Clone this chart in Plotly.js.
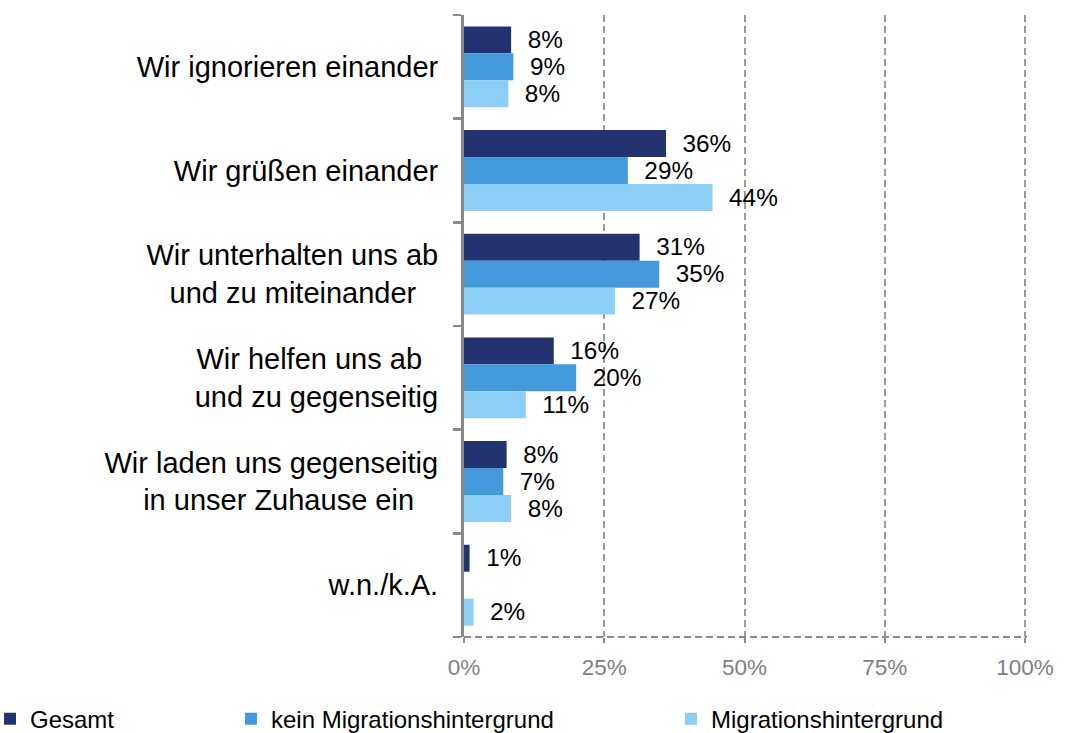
<!DOCTYPE html>
<html>
<head>
<meta charset="utf-8">
<script src="https://cdn.plot.ly/plotly-3.0.1.min.js"></script>
<style>
html,body{margin:0;padding:0;background:#fff;}
#chart{width:1065px;height:733px;}
</style>
</head>
<body>
<div id="chart"></div>
<script>
// ---- Data ----
const categories = ["ign", "gru", "unt", "hel", "lad", "wnka"];
const categoryLabels = [
  "Wir ignorieren einander",
  "Wir grüßen einander",
  "Wir unterhalten uns ab<br>und zu miteinander\u00a0\u00a0\u2009",
  "Wir helfen uns ab\u00a0\u00a0<br>und zu gegenseitig",
  "Wir laden uns gegenseitig<br>in unser Zuhause ein\u00a0\u00a0\u00a0",
  "w.n./k.A."
];
const seriesNames = ["Gesamt", "kein Migrationshintergrund", "Migrationshintergrund"];
const gesamt = [8.4, 36.0, 31.3, 16.0, 7.6, 1.0];
const keinMig = [8.8, 29.2, 34.8, 20.0, 7.0, null];
const mig = [7.9, 44.3, 26.9, 11.0, 8.4, 1.7];
const xTickVals = [0, 25, 50, 75, 100];
const xTickText = ["0%", "25%", "50%", "75%", "100%"];

const colors = ["#233372", "#4499DA", "#8DCEF6"];
const FONT = "Liberation Sans, Arial, sans-serif";

const seriesValues = [gesamt, keinMig, mig];
const legendIds = ["legend", "legend2", "legend3"];

const traces = seriesValues.map((vals, i) => ({
  type: "bar",
  orientation: "h",
  name: seriesNames[i],
  y: categories,
  x: vals,
  marker: {color: colors[i], line: {width: 0}},
  texttemplate: "\u00a0\u00a0%{x:.0f}%",
  textposition: "outside",
  cliponaxis: false,
  textfont: {family: FONT, size: 28, color: "#000"},
  hoverinfo: "skip",
  legend: legendIds[i]
}));

const legendBase = {
  orientation: "h",
  xanchor: "left",
  yanchor: "middle",
  y: -0.132,
  font: {family: FONT, size: 24, color: "#000"},
  bgcolor: "rgba(0,0,0,0)",
  itemwidth: 30
};
const PLOT_W = 563;
function px2paper(px) { return (px - 464) / PLOT_W; }

const layout = {
  width: 1065,
  height: 733,
  margin: {l: 464, r: 38, t: 15, b: 96, autoexpand: false},
  paper_bgcolor: "#fff",
  plot_bgcolor: "#fff",
  barmode: "group",
  bargap: 0.22,
  bargroupgap: 0,
  font: {family: FONT},
  showlegend: true,
  legend: Object.assign({}, legendBase, {x: px2paper(-10)}),
  legend2: Object.assign({}, legendBase, {x: px2paper(231)}),
  legend3: Object.assign({}, legendBase, {x: px2paper(671)}),
  xaxis: {
    range: [0, 100.35],
    tickvals: xTickVals,
    ticktext: xTickText,
    showgrid: true,
    gridcolor: "#9a9a9a",
    gridwidth: 2,
    griddash: "7px,4px",
    zeroline: false,
    showline: false,
    ticks: "outside",
    ticklen: 5,
    tickwidth: 2,
    tickcolor: "#8a8a8a",
    tickfont: {family: FONT, size: 22.5, color: "#808080"},
    ticklabelstandoff: 5,
    automargin: false,
    fixedrange: true
  },
  yaxis: {
    type: "category",
    autorange: "reversed",
    tickvals: categories,
    ticktext: categoryLabels,
    tickson: "boundaries",
    ticks: "outside",
    ticklen: 8,
    tickwidth: 2.5,
    tickcolor: "#898989",
    showline: true,
    linecolor: "#898989",
    linewidth: 3,
    showgrid: false,
    zeroline: false,
    tickfont: {family: FONT, size: 29, color: "#000"},
    ticklabelstandoff: 17,
    automargin: false,
    fixedrange: true
  },
  shapes: [{
    type: "line", xref: "paper", yref: "paper",
    x0: 0, x1: 1, y0: 0, y1: 0,
    line: {color: "#8a8a8a", width: 2, dash: "7px,4px"},
    layer: "above"
  }]
};

Plotly.newPlot("chart", traces, layout, {displayModeBar: false, staticPlot: true});
</script>
</body>
</html>
